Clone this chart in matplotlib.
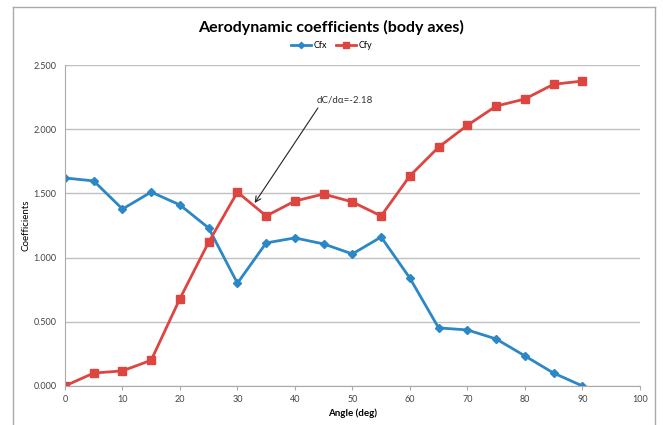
import numpy as np
import matplotlib
matplotlib.use('agg')
import matplotlib.pyplot as plt
from matplotlib.lines import Line2D

plt.rcParams['font.family'] = ['Lato', 'DejaVu Sans']

# data
angle = [0, 5, 10, 15, 20, 25, 30, 35, 40, 45, 50, 55, 60, 65, 70, 75, 80, 85, 90]
cfx = [1.62, 1.597, 1.378, 1.51, 1.41, 1.23, 0.80, 1.114, 1.153, 1.106, 1.028,
       1.16, 0.84, 0.452, 0.436, 0.366, 0.234, 0.10, 0.0]
cfy = [0.0, 0.10, 0.117, 0.20, 0.68, 1.12, 1.51, 1.324, 1.44, 1.495, 1.433,
       1.324, 1.636, 1.86, 2.03, 2.18, 2.235, 2.35, 2.375]
yticks = [0.0, 0.5, 1.0, 1.5, 2.0, 2.5]
xticks = [0, 10, 20, 30, 40, 50, 60, 70, 80, 90, 100]

fig = plt.figure(figsize=(6.63, 4.25), dpi=100)
ax = fig.add_axes([0.098, 0.092, 0.867, 0.755])

ax.plot(angle, cfx, color='#2b87c5', lw=2, marker='D', ms=4.5, label='Cfx')
ax.plot(angle, cfy, color='#dd4540', lw=2, marker='s', ms=6, label='Cfy')

ax.set_xlim(0, 100)
ax.set_ylim(0, 2.5)
ax.set_xticks(xticks)
ax.set_yticks(yticks)
ax.set_yticklabels(['%.3f' % v for v in yticks])
ax.tick_params(axis='both', labelsize=6.5, colors='#444444', length=3)
ax.tick_params(axis='y', length=0, pad=6)
ax.tick_params(axis='x', color='#aaaaaa')
ax.grid(axis='y', color='#c0c0c0', lw=1)
ax.set_axisbelow(True)
for s in ['top', 'right']:
    ax.spines[s].set_visible(False)
for s in ['left', 'bottom']:
    ax.spines[s].set_color('#aaaaaa')

ax.set_xlabel('Angle (deg)', fontsize=7, fontweight='bold', labelpad=3)
ax.set_ylabel('Coefficients', fontsize=7, labelpad=2)
fig.suptitle('Aerodynamic coefficients (body axes)', fontsize=11.5, fontweight='bold', y=0.952)
fig.legend(loc='center', bbox_to_anchor=(0.5, 0.893), ncol=2, frameon=False,
           fontsize=6.5, handlelength=2.2, columnspacing=1.0, handletextpad=0.3,
           markerscale=0.7)

# slope annotation
ax.annotate('', xy=(33, 1.425), xytext=(44.0, 2.165),
            arrowprops=dict(arrowstyle='->', color='#222222', lw=0.8,
                            shrinkA=0, shrinkB=0))
ax.text(43.7, 2.19, 'dC/d\u03b1=-2.18', fontsize=7, color='#333333',
        ha='left', va='bottom')

# chart frame
fig.add_artist(Line2D([0.020, 0.020], [0.0, 0.984], transform=fig.transFigure, color='#aaaaaa', lw=1))
fig.add_artist(Line2D([0.020, 0.988], [0.984, 0.984], transform=fig.transFigure, color='#aaaaaa', lw=1))
fig.add_artist(Line2D([0.988, 0.988], [0.0, 0.984], transform=fig.transFigure, color='#aaaaaa', lw=1))

plt.savefig('out.png', dpi=100)
